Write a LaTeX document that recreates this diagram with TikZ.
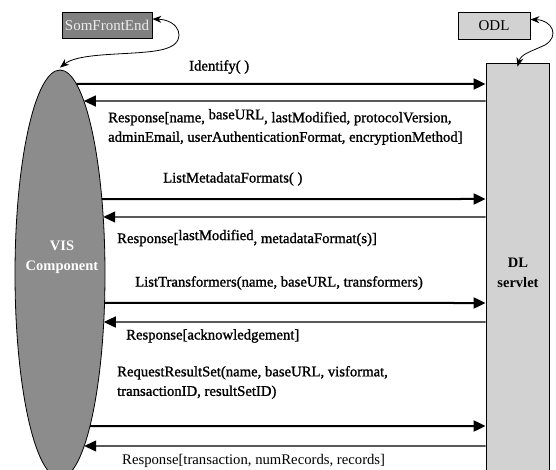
\documentclass[tikz,border=0pt]{standalone}
\usepackage{fontspec}
\setmainfont{Liberation Serif}
\newfontfamily\heavyserif{Liberation Serif}[FakeBold=1.2]
\usetikzlibrary{arrows.meta,intersections,shapes.geometric}

\definecolor{visfill}{RGB}{140,140,140}
\definecolor{frontfill}{RGB}{128,128,128}
\definecolor{servfill}{RGB}{210,210,210}
\definecolor{fronttext}{RGB}{235,235,235}

\begin{document}
\begin{tikzpicture}[x=1pt,y=-1pt,
  msglabel/.style={font=\heavyserif\fontsize{14.7}{19.5}\selectfont, anchor=west,
    inner sep=0pt, align=left},
  plainlabel/.style={msglabel, font=\rmfamily\fontsize{14.7}{19.5}\selectfont},
  boxlabel/.style={font=\fontsize{15}{18}\selectfont, draw=black,
    line width=0.8pt, inner sep=0pt},
  partlabel/.style={font=\bfseries\fontsize{14.5}{20}\selectfont,
    align=center, inner sep=0pt},
  call/.style={line width=2pt, -{Triangle[length=12pt,width=11pt]}},
  reply/.style={line width=1.3pt, {Triangle[length=12pt,width=11pt]}-},
  loopback/.style={line width=0.8pt,
    {Stealth[length=9pt,width=7pt]}-{Stealth[length=9pt,width=7pt]}},
]
\useasboundingbox (0,0) rectangle (556,470);

% the two communicating parts, cut off by the lower edge
\begin{scope}
  \clip (0,0) rectangle (556,470);
  \node[ellipse, draw=black, line width=0.8pt, fill=visfill, inner sep=0pt,
        minimum width=90pt, minimum height=408pt] (vis) at (60,274) {};
  \node[rectangle, draw=black, line width=0.8pt, fill=servfill, inner sep=0pt,
        minimum width=63pt, minimum height=420pt] (dl) at (517.5,273) {};
\end{scope}
\path[name path global=visborder] (vis.center) ellipse [x radius=45, y radius=204];

\node[partlabel, text=white] (vistext) at (62,257) {VIS\\Component};
\node[partlabel] (dltext) at (518,273) {DL\\servlet};

% front-end boxes and their links
\node[boxlabel, fill=frontfill, text=fronttext, minimum width=90pt,
      minimum height=26pt] (sfe) at (107,25) {SomFrontEnd};
\node[boxlabel, fill=servfill, minimum width=72pt,
      minimum height=27pt] (odl) at (494,25.5) {ODL};

\draw[loopback] ([yshift=6pt]sfe.east) .. controls (180,20) and (186,40) .. (170,47)
  .. controls (150,57) and (82,50) .. ([yshift=2pt]vis.north);
\draw[loopback] ([yshift=6pt]odl.east) .. controls (552,20) and (560,36) .. (545,45)
  .. controls (530,52) and (521,54) .. ([yshift=-4pt]dl.north);

% messages between the two parts; each one ends on the right half of the ellipse
\foreach \y/\kind [count=\i] in {84/call,101/reply,199/call,217/reply,
                                 303/call,322/reply,426/call,446/reply} {
  \coordinate (d\i) at (dl.west |- 0,\y);
  \path[name path=ray\i] (d\i) -- (vis.center |- d\i);
  \path[name intersections={of=visborder and ray\i, by={e\i}}];
  \draw[\kind] (e\i) -- (d\i);
}

\node[msglabel] (m1) at (189,67) {Identify( )};
\node[msglabel] (m2) at (108,127) {Response[name, \raisebox{3pt}{baseURL}, lastModified, protocolVersion,\\adminEmail, userAuthenticationFormat, encryptionMethod]};
\node[msglabel] (m3) at (163,179) {ListMetadataFormats( )};
\node[msglabel] (m4) at (117,238) {Response[\raisebox{3pt}{lastModified}, metadataFormat(s)]};
\node[msglabel] (m5) at (135,283) {ListTransformers(name, baseURL, transformers)};
\node[msglabel] (m6) at (126,336) {Response[acknowledgement]};
\node[msglabel] (m7) at (117,382.5) {RequestResultSet(name, baseURL, visformat,\\transactionID, resultSetID)};
\node[plainlabel] (m8) at (122,461) {Response[transaction, numRecords, records]};
\end{tikzpicture}
\end{document}
